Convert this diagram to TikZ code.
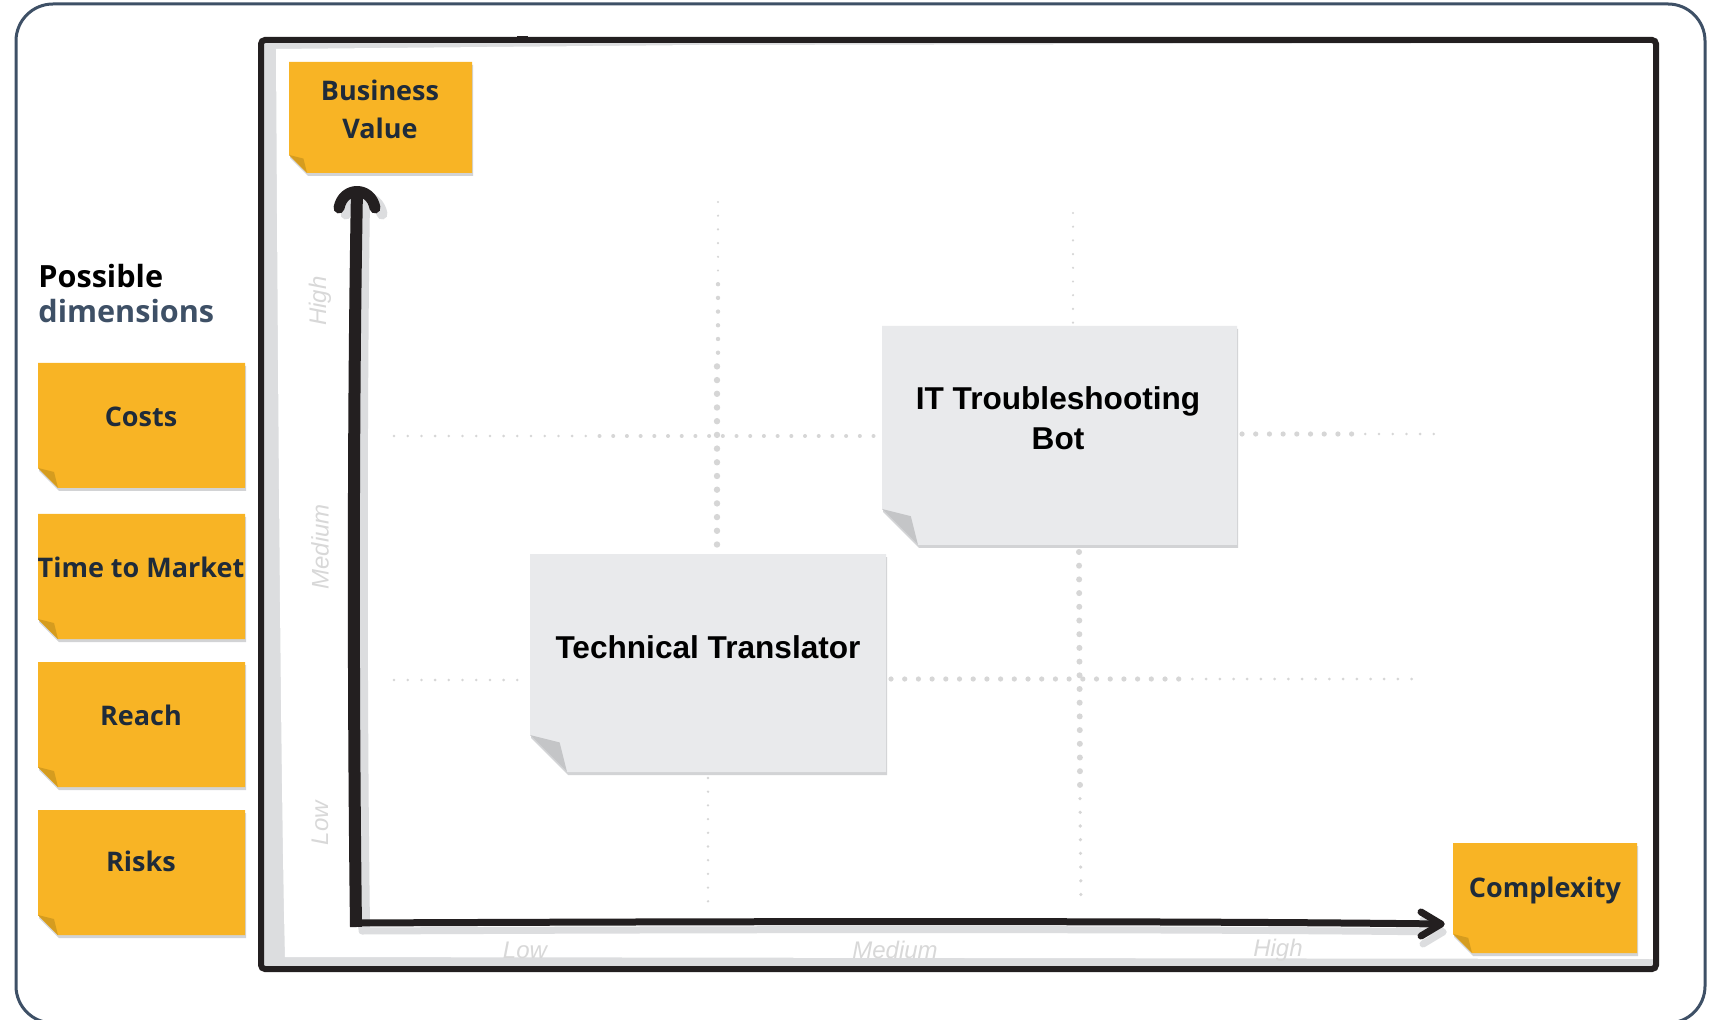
\documentclass[tikz,border=0pt]{standalone}
\usepackage{fontspec}
\setmainfont{Open Sans}
\newfontfamily\arialfont{Liberation Sans}
\usetikzlibrary{calc}

\definecolor{stickyyellow}{HTML}{F8B425}
\definecolor{stickyfold}{HTML}{D59C1F}
\definecolor{cardgray}{HTML}{E9EAEC}
\definecolor{cardfold}{HTML}{C4C5C7}
\definecolor{noteshade}{HTML}{D2D3D5}
\definecolor{bandgray}{HTML}{DCDDDF}
\definecolor{slate}{HTML}{3E5066}
\definecolor{ink}{HTML}{231F20}
\definecolor{textnavy}{HTML}{1F2B3A}
\definecolor{gridgray}{HTML}{D6D6D6}
\definecolor{labelgray}{HTML}{D8D8D8}

% sticky note with a curled lower-left corner:
% #1,#2 top-left, #3,#4 bottom-right, #5 curl size, #6 paper colour, #7 curl colour
\newcommand\notesheet[7]{%
  \fill[noteshade,shift={(1,3)}] (#1,#2) -- (#3,#2) -- (#3,#4) -- ({#1+#5},#4) -- (#1,{#4-#5}) -- cycle;
  \fill[#6] (#1,#2) -- (#3,#2) -- (#3,#4) -- ({#1+#5},#4) -- (#1,{#4-#5}) -- cycle;
  \fill[#7] (#1,{#4-#5}) -- ({#1+0.8*#5},{#4-0.8*#5}) -- ({#1+#5},#4) -- cycle;
}

\tikzset{
  notetext/.style={text=textnavy, align=center, inner sep=0pt,
    font=\fontsize{13.5}{19}\selectfont\bfseries},
  headtext/.style={inner sep=0pt, anchor=base west,
    font=\fontsize{15.3}{17.5}\selectfont\bfseries},
  cardtext/.style={text=black, align=center, inner sep=0pt,
    font=\arialfont\fontsize{15.8}{20}\selectfont\bfseries},
  axlabel/.style={text=labelgray, inner sep=0pt,
    font=\arialfont\fontsize{12}{14}\selectfont\itshape},
  dotline/.style={draw=gridgray, line width=#1, line cap=round, dash pattern=on 0pt off 6.85pt},
  axshadow/.style={draw=bandgray, line cap=round, line join=round},
  axink/.style={draw=ink, line cap=round, line join=round},
}

\begin{document}
\begin{tikzpicture}[x=0.5pt,y=-0.5pt]
\useasboundingbox (0,0) rectangle (1716,1020);

% outer rounded frame
\draw[slate, line width=1.5pt, rounded corners=18.5pt] (16,4) rectangle (1705,1023);

% chart board: grey hand-drawn inner band, white paper, black frame
\fill[bandgray] (262,41) rectangle (1655,968);
\fill[white] (276,49) .. controls (278,400) and (281,800) .. (285,957)
  -- (1654,959) -- (1654,43) -- (700,45) -- cycle;
\draw[ink, line width=3pt, rounded corners=2pt] (261,40) rectangle (1656,969);
\fill[ink] (517,36) rectangle (528,40);

% dotted quadrant guides (dots swell towards the crossings)
\draw[dotline=1.2pt] (718,202) -- (718,271);
\draw[dotline=2.2pt] (718,284.2) -- (718,353);
\draw[dotline=3.2pt] (717,366.4) -- (717,553);
\draw[dotline=1.3pt] (708,778) -- (708,903);
\draw[dotline=1.2pt] (1073,213) -- (1073,323);
\draw[dotline=3pt] (1079,552) -- (1080,785);
\draw[dotline=1.8pt] (1080,798.6) -- (1081,903);
\draw[dotline=1.4pt] (394,436) -- (586,436);
\draw[dotline=2pt] (599.5,436) -- (881,436);
\draw[dotline=2.6pt] (1242,434) -- (1352,434);
\draw[dotline=1.4pt] (1365.3,434) -- (1434,434);
\draw[dotline=1.4pt] (394,680) -- (529,680);
\draw[dotline=2.6pt] (891,679) -- (1179,679);
\draw[dotline=1.5pt] (1192.4,679) -- (1412,679);

% axes
\coordinate (origin) at (356,923);
\coordinate (ytip) at (357,190);
\coordinate (xtip) at (1441,924);

\draw[axshadow, line width=6pt] ($(origin)+(8,4)$) .. controls (361,700) and (361,400) .. ($(ytip)+(7,10)$);
\draw[axshadow, line width=5.5pt] ($(ytip)+(-11,24)$) .. controls ($(ytip)+(-7,2)$) and ($(ytip)+(21,2)$) .. ($(ytip)+(25,24)$);
\draw[axshadow, line width=3.5pt] ($(origin)+(6,8)$) .. controls (800,929) and (1200,929) .. ($(xtip)+(2,8)$);
\draw[axshadow, line width=3.5pt] ($(xtip)+(-18,-4)$) -- ($(xtip)+(2,8)$) -- ($(xtip)+(-18,20)$);

\draw[axink, line width=6pt, line cap=butt] ($(origin)+(0,4)$) .. controls (353,700) and (353,400) .. (ytip);
\draw[axink, line width=5.5pt] ($(ytip)+(-18,18)$) .. controls ($(ytip)+(-14,-4)$) and ($(ytip)+(14,-4)$) .. ($(ytip)+(18,18)$);
\draw[axink, line width=3.5pt] ($(origin)+(-2,0)$) .. controls (800,921) and (1200,921) .. (xtip);
\draw[axink, line width=3.5pt] ($(xtip)+(-20,-12)$) -- (xtip) -- ($(xtip)+(-20,12)$);

% axis scale labels
\node[axlabel] (xlow) at (525,950) {Low};
\node[axlabel] (xmed) at (895,950) {Medium};
\node[axlabel] (xhigh) at (1278,950) {High};
\node[axlabel, rotate=90] (ylow) at (320,823) {Low};
\node[axlabel, rotate=90] (ymed) at (320,547) {Medium};
\node[axlabel, rotate=90] (yhigh) at (320,301) {High};

% axis title notes
\notesheet{289}{62}{472}{173}{18}{stickyyellow}{stickyfold}
\node[notetext] (bizvalue) at (380,109) {Business\\Value};
\notesheet{1453}{843}{1637}{953}{19}{stickyyellow}{stickyfold}
\node[notetext] (complexity) at (1545,890) {Complexity};

% use-case cards
\notesheet{530}{554}{886}{772}{37}{cardgray}{cardfold}
\node[cardtext] (translator) at (708,647) {Technical Translator};
\notesheet{882}{326}{1237}{545}{36}{cardgray}{cardfold}
\node[cardtext] (itbot) at (1058,418) {IT Troubleshooting\\Bot};

% dimensions column
\node[headtext, text=black] (possible) at (38,288) {Possible};
\node[headtext, text=slate] (dimensions) at (38,323) {dimensions};

\notesheet{38}{363}{245}{488}{20}{stickyyellow}{stickyfold}
\node[notetext] (costs) at (141,417) {Costs};
\notesheet{38}{514}{245}{639}{20}{stickyyellow}{stickyfold}
\node[notetext] (market) at (141,567) {Time to Market};
\notesheet{38}{662}{245}{787}{20}{stickyyellow}{stickyfold}
\node[notetext] (reach) at (141,715) {Reach};
\notesheet{38}{810}{245}{935}{20}{stickyyellow}{stickyfold}
\node[notetext] (risks) at (141,861) {Risks};
\end{tikzpicture}
\end{document}
